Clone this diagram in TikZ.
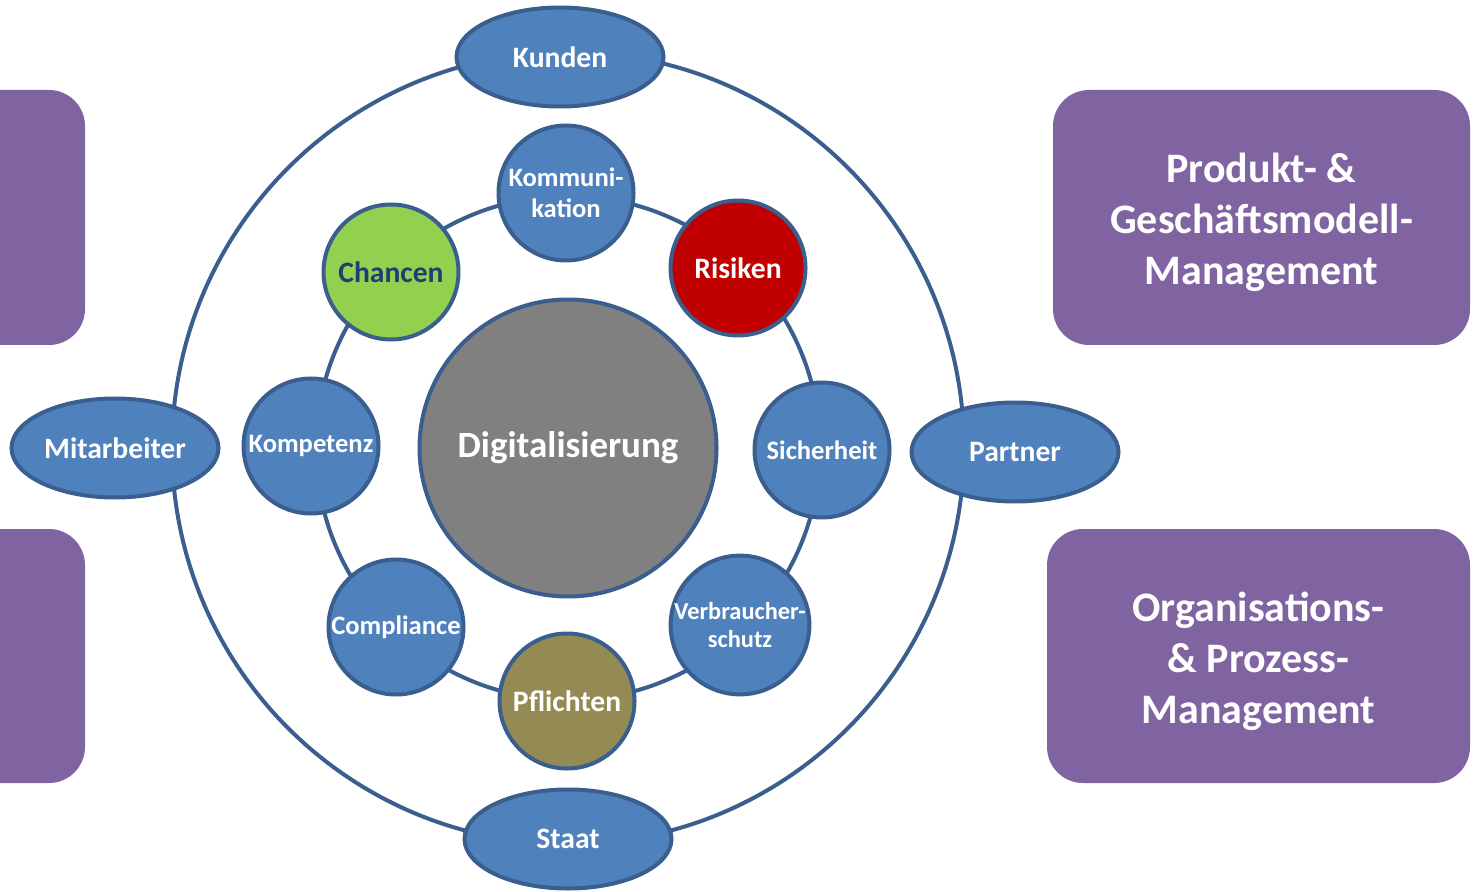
\documentclass[tikz,border=0pt]{standalone}
\usepackage{fontspec}
\setmainfont{Carlito}
\usepackage{xcolor}
\usetikzlibrary{positioning,shapes}

\definecolor{lineblue}{HTML}{3A5F8E}
\definecolor{fillblue}{HTML}{4F81BD}
\definecolor{boxpurple}{HTML}{8064A2}
\definecolor{chancegreen}{HTML}{92D050}
\definecolor{riskred}{HTML}{C00000}
\definecolor{dutyolive}{HTML}{948A54}
\definecolor{coregrey}{HTML}{808080}
\definecolor{darknavy}{HTML}{1F3F72}

\begin{document}
\begin{tikzpicture}[x=0.5pt,y=-0.5pt]
            \tikzstyle{ring} = [draw=lineblue, line width=2pt]
            \tikzstyle{bubble} = [circle, draw=lineblue, line width=2pt, fill=fillblue, minimum size=67.5pt, inner sep=0pt, text=white, align=center, font=\bfseries\fontsize{13.3}{15.5}\selectfont]
            \tikzstyle{bigword} = [font=\bfseries\fontsize{14.8}{17}\selectfont]
            \tikzstyle{actor} = [ellipse, draw=lineblue, line width=2pt, fill=fillblue, minimum width=103.5pt, minimum height=49.5pt, inner sep=0pt, text=white, font=\bfseries\fontsize{14.8}{17}\selectfont]
            \tikzstyle{area} = [rectangle, rounded corners=18pt, fill=boxpurple, text=white, align=center, font=\bfseries\fontsize{21}{25.5}\selectfont]

            \useasboundingbox (0,0) rectangle (1475,892);
            \clip (0,0) rectangle (1475,892);

            % purple boxes
            \node [area, minimum width=208.5pt, minimum height=127.5pt] (product) at (1261.5,217.5) {\rule{0pt}{20pt}Produkt- \&\\Geschäftsmodell-\\Management};
            \node [area, minimum width=211.5pt, minimum height=127pt] (process) at (1258.5,656) {\rule{0pt}{20pt}Organisations-\\\& Prozess-\\Management};
            \node [area, minimum width=210pt, minimum height=127.5pt] (leftup) at (-125,217.5) {};
            \node [area, minimum width=210pt, minimum height=127pt] (leftdown) at (-125,656) {};

            % rings
            \coordinate (mid) at (568,448);
            \draw [ring] (mid) circle [radius=396];
            \draw [ring] (mid) circle [radius=252];

            % centre
            \node [circle, draw=lineblue, line width=2pt, fill=coregrey, minimum size=148.5pt, text=white, font=\bfseries\fontsize{18.5}{20}\selectfont] (digital) at (mid) {Digitalisierung};

            % inner ring
            \node [bubble] (komm) at (566,193) {Kommuni-\\kation};
            \node [bubble, bigword, fill=riskred] (risk) at (738,268) {Risiken};
            \node [bubble] (safe) at (822,450) {Sicherheit};
            \node [bubble, font=\bfseries\fontsize{12.2}{14}\selectfont] (consumer) at (740,625) {Verbraucher-\\schutz};
            \node [bubble, bigword, fill=dutyolive] (duty) at (567,701) {Pflichten};
            \node [bubble] (comply) at (396,627) {Compliance};
            \node [bubble] (skill) at (311,446) {Kompetenz};
            \node [bubble, bigword, fill=chancegreen, text=darknavy] (chance) at (391,272) {Chancen};

            % outer ring
            \node [actor] (customer) at (560,57) {Kunden};
            \node [actor] (state) at (568,839) {Staat};
            \node [actor] (staff) at (115,448) {Mitarbeiter};
            \node [actor] (partner) at (1015,452) {Partner};
\end{tikzpicture}
\end{document}
